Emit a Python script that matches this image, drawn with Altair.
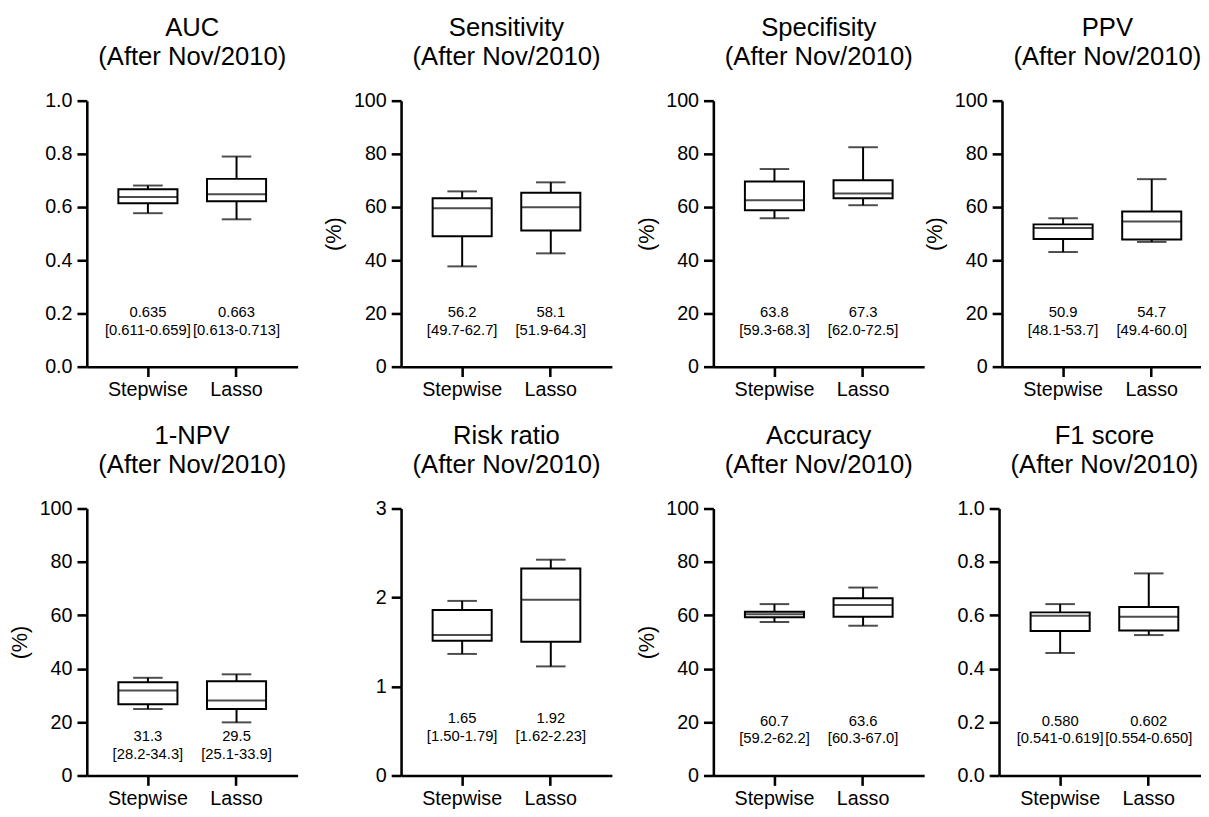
import altair as alt
import pandas as pd

FONT = "Liberation Sans"

metrics = ["AUC", "Sensitivity", "Specifisity", "PPV", "1-NPV", "Risk ratio", "Accuracy", "F1 score"]
subtitle = "(After Nov/2010)"
models = ["Stepwise", "Lasso"]

# box statistics: whisker low, Q1, median, Q3, whisker high
step_min = [0.577, 37.7, 55.8, 43.1, 24.9, 1.366, 57.5, 0.459]
step_q1 = [0.614, 49.0, 58.8, 48.0, 26.7, 1.513, 59.3, 0.541]
step_med = [0.638, 59.6, 62.6, 52.1, 31.8, 1.579, 60.4, 0.598]
step_q3 = [0.667, 63.3, 69.6, 53.5, 34.9, 1.859, 61.3, 0.611]
step_max = [0.681, 65.9, 74.3, 55.8, 36.6, 1.962, 64.2, 0.642]

lasso_min = [0.554, 42.6, 60.7, 46.9, 19.9, 1.226, 56.1, 0.526]
lasso_q1 = [0.622, 51.2, 63.3, 47.8, 24.9, 1.502, 59.5, 0.543]
lasso_med = [0.648, 59.9, 65.1, 54.6, 28.1, 1.976, 63.9, 0.595]
lasso_q3 = [0.706, 65.4, 70.1, 58.3, 35.3, 2.326, 66.4, 0.631]
lasso_max = [0.790, 69.3, 82.5, 70.5, 37.9, 2.425, 70.4, 0.757]

# mean and 95% CI annotations
step_mean = ["0.635", "56.2", "63.8", "50.9", "31.3", "1.65", "60.7", "0.580"]
step_ci = ["[0.611-0.659]", "[49.7-62.7]", "[59.3-68.3]", "[48.1-53.7]",
           "[28.2-34.3]", "[1.50-1.79]", "[59.2-62.2]", "[0.541-0.619]"]
lasso_mean = ["0.663", "58.1", "67.3", "54.7", "29.5", "1.92", "63.6", "0.602"]
lasso_ci = ["[0.613-0.713]", "[51.9-64.3]", "[62.0-72.5]", "[49.4-60.0]",
            "[25.1-33.9]", "[1.62-2.23]", "[60.3-67.0]", "[0.554-0.650]"]

# axes
ticks_unit = [0.0, 0.2, 0.4, 0.6, 0.8, 1.0]
ticks_pct = [0, 20, 40, 60, 80, 100]
ticks_rr = [0, 1, 2, 3]
y_ticks = [ticks_unit, ticks_pct, ticks_pct, ticks_pct, ticks_pct, ticks_rr, ticks_pct, ticks_unit]
y_format = [".1f", "d", "d", "d", "d", "d", "d", ".1f"]
y_titles = [None, "(%)", "(%)", "(%)", "(%)", None, "(%)", None]

# layout (not data): annotation anchor as fraction of axis range, per-column left extents
ANNOT_FRAC = {"1-NPV": 0.13, "Risk ratio": 0.197}
LEFT_EXT = [80, 105, 103, 76]
W = 214
HEIGHTS = [270, 271]
LW_AXIS = 2.6
LW_BOX = 2.0


def panel(i, col, height):
    top = y_ticks[i][-1]
    frac = ANNOT_FRAC.get(metrics[i], 0.187)
    df = pd.DataFrame({
        "model": models,
        "lo": [step_min[i], lasso_min[i]],
        "q1": [step_q1[i], lasso_q1[i]],
        "med": [step_med[i], lasso_med[i]],
        "q3": [step_q3[i], lasso_q3[i]],
        "hi": [step_max[i], lasso_max[i]],
        "label": [step_mean[i] + "\n" + step_ci[i], lasso_mean[i] + "\n" + lasso_ci[i]],
    })
    df["ly"] = frac * top

    yscale = alt.Scale(domain=[y_ticks[i][0], top], nice=False, zero=True)
    axis_kw = dict(values=y_ticks[i], format=y_format[i], grid=False,
                   minExtent=LEFT_EXT[col], maxExtent=LEFT_EXT[col],
                   tickSize=10, tickWidth=LW_AXIS, domainWidth=LW_AXIS,
                   labelFontSize=20, labelPadding=5)
    if y_titles[i]:
        axis_kw.update(titleX=-61, titleY=height / 2, titleAngle=270,
                       titleBaseline="alphabetic", titleAlign="center",
                       titleFontSize=22)
    yaxis = alt.Axis(**axis_kw)

    def Y(field):
        return alt.Y(field + ":Q", scale=yscale, axis=yaxis, title=y_titles[i])

    x = alt.X("model:N", sort=models, title=None,
              scale=alt.Scale(paddingInner=1 / 3, paddingOuter=0.356),
              axis=alt.Axis(labelAngle=0, labelFontSize=20, tickSize=10,
                            tickWidth=LW_AXIS, domainWidth=LW_AXIS, labelPadding=3))

    base = alt.Chart(df)
    whisk = base.mark_rule(color="black", strokeWidth=LW_BOX).encode(x=x, y=Y("lo"), y2="hi")
    box = base.mark_bar(fill="white", stroke="black", strokeWidth=LW_BOX).encode(x=x, y=Y("q1"), y2="q3")
    med = base.mark_tick(color="black", size=60, thickness=LW_BOX).encode(x=x, y=Y("med"))
    cap_lo = base.mark_tick(color="black", size=30, thickness=LW_BOX).encode(x=x, y=Y("lo"))
    cap_hi = base.mark_tick(color="black", size=30, thickness=LW_BOX).encode(x=x, y=Y("hi"))
    txt = base.mark_text(lineBreak="\n", fontSize=15, font=FONT, lineHeight=18,
                         baseline="alphabetic", align="center", color="black").encode(
        x=x, y=Y("ly"), text="label:N")

    return alt.layer(whisk, box, med, cap_lo, cap_hi, txt).properties(
        width=W, height=height,
        title=alt.TitleParams([metrics[i], subtitle], fontSize=26, fontWeight="normal",
                              font=FONT, color="black", lineHeight=30, frame="group",
                              anchor="middle", offset=21),
    )


row1 = alt.hconcat(*[panel(i, i, HEIGHTS[0]) for i in range(4)], spacing=0)
row2 = alt.hconcat(*[panel(i + 4, i, HEIGHTS[1]) for i in range(4)], spacing=0)

chart = alt.vconcat(row1, row2, spacing=24).properties(
    padding={"left": 0, "top": 1, "right": -12, "bottom": 0},
    background="white",
).configure_view(strokeWidth=0).configure_axis(
    domainColor="black", tickColor="black", labelColor="black", titleColor="black",
    labelFont=FONT, titleFont=FONT, titleFontWeight="normal",
)

chart.save("out.html", embed_options={"renderer": "svg", "actions": False})
